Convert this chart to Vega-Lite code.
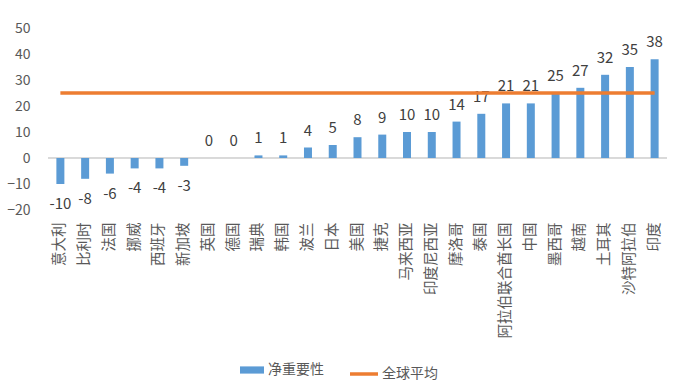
{
  "$schema": "https://vega.github.io/schema/vega-lite/v6.json",
  "width": 619,
  "height": 182,
  "autosize": "none",
  "padding": {"left": 48, "top": 28, "right": 18, "bottom": 171},
  "background": "white",
  "config": {
    "view": {"stroke": null},
    "font": "Noto Sans CJK SC",
    "axis": {"labelFont": "Noto Sans CJK SC", "labelColor": "#595959", "labelFontSize": 13, "grid": false, "domain": false, "ticks": false},
    "axisY": {"tickCount": 8, "labelPadding": 18, "labelFontSize": 14, "labelOverlap": false, "labelFlush": false, "title": null},
    "legend": {"labelFont": "Noto Sans CJK SC", "labelColor": "#595959", "labelFontSize": 14}
  },
  "data": {
    "values": [
      {"country": "意大利", "v": -10, "avg": 25},
      {"country": "比利时", "v": -8, "avg": 25},
      {"country": "法国", "v": -6, "avg": 25},
      {"country": "挪威", "v": -4, "avg": 25},
      {"country": "西班牙", "v": -4, "avg": 25},
      {"country": "新加坡", "v": -3, "avg": 25},
      {"country": "英国", "v": 0, "avg": 25},
      {"country": "德国", "v": 0, "avg": 25},
      {"country": "瑞典", "v": 1, "avg": 25},
      {"country": "韩国", "v": 1, "avg": 25},
      {"country": "波兰", "v": 4, "avg": 25},
      {"country": "日本", "v": 5, "avg": 25},
      {"country": "美国", "v": 8, "avg": 25},
      {"country": "捷克", "v": 9, "avg": 25},
      {"country": "马来西亚", "v": 10, "avg": 25},
      {"country": "印度尼西亚", "v": 10, "avg": 25},
      {"country": "摩洛哥", "v": 14, "avg": 25},
      {"country": "泰国", "v": 17, "avg": 25},
      {"country": "阿拉伯联合酋长国", "v": 21, "avg": 25},
      {"country": "中国", "v": 21, "avg": 25},
      {"country": "墨西哥", "v": 25, "avg": 25},
      {"country": "越南", "v": 27, "avg": 25},
      {"country": "土耳其", "v": 32, "avg": 25},
      {"country": "沙特阿拉伯", "v": 35, "avg": 25},
      {"country": "印度", "v": 38, "avg": 25}
    ]
  },
  "encoding": {
    "x": {
      "field": "country", "type": "nominal", "sort": null, "title": null,
      "scale": {"paddingInner": 0, "paddingOuter": 0},
      "axis": {"labelAngle": -90, "labelPadding": 12, "labelFontSize": 14.5, "labelOverlap": false}
    }
  },
  "layer": [
    {
      "mark": {"type": "rule", "color": "#d9d9d9", "strokeWidth": 1},
      "encoding": {"x": null, "y": {"datum": 0, "type": "quantitative"}}
    },
    {
      "mark": {"type": "bar", "size": 8},
      "encoding": {
        "y": {
          "field": "v", "type": "quantitative", "title": null,
          "scale": {"domain": [-20, 50], "nice": false, "zero": false}
        },
        "fill": {
          "datum": "净重要性",
          "scale": {"domain": ["净重要性"], "range": ["#5B9BD5"]},
          "legend": {"title": null, "orient": "none", "legendX": 192, "legendY": 330, "symbolType": "M-1,-0.3H1V0.3H-1Z", "symbolSize": 576, "symbolStrokeWidth": 0, "symbolOpacity": 1, "labelOffset": 4}
        }
      }
    },
    {
      "transform": [{"filter": "datum.v >= 0"}],
      "mark": {"type": "text", "baseline": "bottom", "dy": -9, "fontSize": 15, "color": "#404040"},
      "encoding": {"y": {"field": "v", "type": "quantitative"}, "text": {"field": "v"}}
    },
    {
      "transform": [{"filter": "datum.v < 0"}],
      "mark": {"type": "text", "baseline": "top", "dy": 13, "fontSize": 15, "color": "#404040"},
      "encoding": {"y": {"field": "v", "type": "quantitative"}, "text": {"field": "v"}}
    },
    {
      "mark": {"type": "line", "strokeWidth": 3.5},
      "encoding": {
        "y": {"field": "avg", "type": "quantitative"},
        "stroke": {
          "datum": "全球平均",
          "scale": {"domain": ["全球平均"], "range": ["#ED7D31"]},
          "legend": {"title": null, "orient": "none", "legendX": 300, "legendY": 330, "symbolType": "stroke", "symbolSize": 784, "symbolStrokeWidth": 3.5, "labelOffset": 2}
        }
      }
    }
  ]
}
